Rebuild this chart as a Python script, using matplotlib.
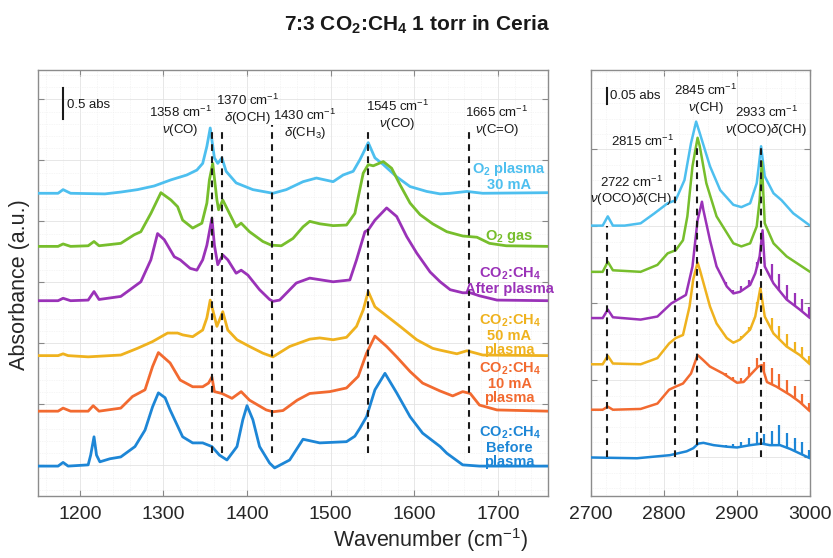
import numpy as np
import matplotlib
matplotlib.use("Agg")
import matplotlib.pyplot as plt
from matplotlib.ticker import FixedLocator

plt.rcParams['font.family'] = ['Liberation Sans', 'DejaVu Sans']
plt.rcParams['mathtext.fontset'] = 'custom'
plt.rcParams['mathtext.rm'] = 'Liberation Sans'
plt.rcParams['mathtext.it'] = 'Liberation Sans:italic'
plt.rcParams['mathtext.bf'] = 'Liberation Sans:bold'

# ---------------- data: left panel (1150-1760 cm-1), offset absorbance ----------------
before_wn = [1150,1174,1180,1186,1210,1213,1217,1220,1224,1236,1249,1266,1278,1287,1294,1302,1308,1323,1335,1347,
             1358,1367,1376,1388,1395,1400,1407,1415,1427,1433,1451,1467,1487,1519,1529,1535,1543,1553,1565,1579,
             1595,1610,1631,1639,1658,1678,1760]
before_y = [0.49,0.49,0.55,0.49,0.51,0.67,0.97,0.67,0.56,0.61,0.64,0.81,1.08,1.46,1.69,1.61,1.41,0.97,0.87,0.87,
            0.81,0.67,0.59,0.81,1.25,1.48,1.25,0.81,0.54,0.46,0.59,0.93,0.87,0.89,0.98,1.11,1.30,1.74,2.01,1.69,
            1.30,1.03,0.81,0.70,0.51,0.49,0.49]

p10_wn = [1150,1174,1180,1189,1210,1216,1223,1249,1263,1278,1287,1294,1308,1320,1335,1347,1354,1358,1361,1370,
          1382,1393,1403,1423,1431,1443,1460,1475,1499,1519,1533,1543,1553,1567,1579,1595,1610,1631,1646,1658,
          1667,1678,1699,1760]
p10_y = [1.39,1.39,1.44,1.39,1.39,1.48,1.39,1.44,1.63,1.74,2.12,2.35,2.18,1.90,1.79,1.79,1.85,1.95,1.71,1.68,
         1.60,1.71,1.57,1.41,1.38,1.40,1.57,1.68,1.71,1.77,1.96,2.34,2.62,2.45,2.28,2.04,1.85,1.72,1.64,1.71,
         1.68,1.49,1.41,1.39]

p50_wn = [1150,1174,1180,1186,1210,1249,1269,1287,1305,1317,1323,1335,1347,1352,1356,1359,1364,1371,1377,1388,
          1403,1419,1431,1451,1475,1487,1503,1519,1531,1539,1545,1553,1568,1583,1603,1622,1631,1651,1663,1682,1760]
p50_y = [2.30,2.30,2.33,2.30,2.28,2.31,2.42,2.53,2.67,2.67,2.64,2.61,2.72,2.92,3.21,3.05,2.78,3.02,2.72,2.56,
         2.45,2.34,2.28,2.45,2.57,2.59,2.56,2.60,2.78,3.05,3.35,3.10,2.94,2.78,2.56,2.42,2.39,2.33,2.38,2.31,2.30]

after_wn = [1150,1174,1180,1189,1210,1217,1223,1249,1265,1273,1285,1293,1301,1313,1320,1332,1340,1347,1352,1358,
            1361,1365,1371,1377,1387,1393,1401,1415,1427,1431,1439,1459,1475,1503,1523,1531,1541,1545,1553,1567,
            1579,1591,1603,1619,1631,1643,1658,1667,1678,1699,1760]
after_y = [3.20,3.20,3.24,3.20,3.21,3.35,3.22,3.27,3.43,3.51,3.87,4.30,4.20,3.92,3.87,3.73,3.70,3.87,4.11,4.55,
           4.11,3.79,3.95,3.87,3.65,3.70,3.62,3.38,3.22,3.19,3.21,3.49,3.57,3.51,3.54,3.87,4.33,4.36,4.52,4.72,
           4.58,4.25,3.98,3.67,3.51,3.38,3.33,3.33,3.28,3.21,3.20]

o2gas_wn = [1150,1174,1180,1189,1210,1217,1223,1249,1265,1273,1285,1297,1309,1317,1323,1335,1346,1352,1355,1359,
            1364,1366,1371,1379,1387,1393,1403,1419,1429,1441,1455,1467,1475,1487,1503,1519,1529,1539,1545,1551,
            1563,1573,1583,1595,1607,1622,1639,1658,1675,1690,1710,1760]
o2gas_y = [4.09,4.09,4.13,4.09,4.10,4.17,4.10,4.14,4.28,4.33,4.63,4.97,4.85,4.74,4.52,4.39,4.47,4.80,5.18,5.45,
           4.85,4.69,4.85,4.63,4.41,4.47,4.33,4.17,4.11,4.10,4.22,4.41,4.50,4.46,4.43,4.44,4.63,5.29,5.43,5.41,
           5.48,5.37,5.10,4.80,4.61,4.46,4.33,4.26,4.24,4.14,4.10,4.09]

o2pl_wn = [1150,1174,1180,1189,1230,1249,1269,1289,1309,1328,1340,1347,1352,1356,1361,1365,1370,1375,1387,1407,
           1431,1447,1467,1483,1503,1515,1527,1535,1539,1545,1553,1563,1579,1595,1615,1631,1643,1663,1682,1760]
o2pl_y = [4.96,4.96,5.02,4.96,4.95,4.98,5.02,5.08,5.18,5.26,5.34,5.45,5.73,6.03,5.54,5.45,5.54,5.32,5.13,5.02,
          4.96,5.02,5.15,5.21,5.15,5.26,5.32,5.51,5.62,5.79,5.54,5.43,5.23,5.07,4.99,4.95,4.96,4.99,4.96,4.97]

# ---------------- data: right panel (2700-3000 cm-1) ----------------
r_o2pl_wn = [2700,2716,2723,2730,2746,2768,2787,2805,2816,2828,2837,2844,2849,2863,2877,2895,2906,2918,2927,2933,
             2938,2950,2961,2977,3000]
r_o2pl_y = [3.51,3.51,3.63,3.51,3.51,3.54,3.67,3.80,3.84,4.10,4.58,4.86,4.71,4.28,3.97,3.78,3.75,3.80,4.06,4.54,
            4.15,3.93,3.84,3.67,3.51]
r_o2gas_wn = [2700,2716,2723,2730,2768,2791,2805,2816,2826,2832,2839,2846,2849,2858,2872,2895,2906,2918,2927,2931,
              2934,2938,2950,2968,3000]
r_o2gas_y = [2.91,2.91,3.04,2.93,2.91,3.00,3.15,3.19,3.32,3.63,4.28,4.65,4.54,4.06,3.63,3.28,3.24,3.28,3.50,3.84,
             4.34,3.54,3.28,3.11,2.91]
r_after_wn = [2700,2716,2723,2730,2768,2791,2810,2819,2830,2839,2846,2852,2854,2863,2872,2886,2895,2904,2918,2925,
              2931,2935,2938,2950,2968,2986,3000]
r_after_y = [2.31,2.31,2.42,2.32,2.29,2.33,2.50,2.55,2.61,2.98,3.58,3.82,3.71,3.32,2.98,2.72,2.63,2.65,2.74,2.89,
             3.11,3.45,2.98,2.76,2.55,2.42,2.31]
r_p50_wn = [2700,2716,2723,2730,2768,2791,2807,2816,2826,2835,2840,2846,2849,2863,2872,2886,2895,2904,2918,2925,
            2932,2938,2950,2968,2986,3000]
r_p50_y = [1.71,1.71,1.82,1.72,1.71,1.79,1.98,2.05,2.09,2.46,2.81,3.03,2.94,2.46,2.24,2.05,1.99,2.03,2.16,2.33,
           2.70,2.33,2.11,1.94,1.83,1.71]
r_p10_wn = [2700,2716,2723,2730,2768,2791,2807,2816,2826,2837,2846,2853,2863,2881,2900,2909,2920,2929,2934,2941,
            2954,2973,2986,3000]
r_p10_y = [1.12,1.12,1.16,1.12,1.13,1.20,1.38,1.42,1.46,1.59,1.83,1.77,1.68,1.59,1.47,1.48,1.59,1.68,1.70,1.48,
           1.42,1.31,1.22,1.10]
r_before_wn = [2700,2763,2808,2831,2840,2847,2854,2868,2886,2900,2918,2934,2945,2959,2973,2991,3000]
r_before_y = [0.50,0.49,0.53,0.58,0.62,0.68,0.69,0.66,0.64,0.63,0.66,0.68,0.66,0.66,0.61,0.53,0.49]

# gas-phase CH4 rotational lines and their heights on each trace
ch4_lines = [2885, 2895, 2906, 2916, 2927, 2937, 2948, 2958, 2968, 2979, 2989, 2999]
spk_before = [0.02, 0.04, 0.06, 0.10, 0.16, 0.13, 0.19, 0.26, 0.19, 0.17, 0.16, 0.10]
spk_p10 = [0.03, 0.04, 0.06, 0.12, 0.13, 0.13, 0.22, 0.19, 0.17, 0.16, 0.13, 0.10]
spk_p50 = [0.00, 0.02, 0.03, 0.05, 0.08, 0.00, 0.17, 0.17, 0.16, 0.13, 0.13, 0.10]
spk_after = [0.04, 0.05, 0.06, 0.08, 0.08, 0.00, 0.22, 0.22, 0.19, 0.17, 0.16, 0.13]

# band markers
left_marks = [1358, 1370, 1430, 1545, 1665]
left_mark_top = [6.05, 6.00, 6.08, 5.97, 6.05]
right_marks = [2722, 2815, 2845, 2933]
right_mark_top = [3.50, 4.53, 4.53, 4.58]

labels = ["O$_\\mathbf{2}$ plasma\n30 mA", "O$_\\mathbf{2}$ gas", "CO$_\\mathbf{2}$:CH$_\\mathbf{4}$\nAfter plasma",
          "CO$_\\mathbf{2}$:CH$_\\mathbf{4}$\n50 mA\nplasma", "CO$_\\mathbf{2}$:CH$_\\mathbf{4}$\n10 mA\nplasma",
          "CO$_\\mathbf{2}$:CH$_\\mathbf{4}$\nBefore\nplasma"]
label_y = [5.24, 4.26, 3.52, 2.64, 1.85, 0.81]

colors = ['#4DBFEF', '#77BE2C', '#9A32B8', '#EFB21E', '#F26A30', '#1D86D6']

# ---------------- figure ----------------
fig = plt.figure(figsize=(8.33, 5.58), dpi=100)
axL = fig.add_axes([38/833, 62/558, 510/833, 426/558])
axR = fig.add_axes([591/833, 62/558, 219/833, 426/558])

left_series = [(o2pl_wn, o2pl_y), (o2gas_wn, o2gas_y), (after_wn, after_y),
               (p50_wn, p50_y), (p10_wn, p10_y), (before_wn, before_y)]
right_series = [(r_o2pl_wn, r_o2pl_y), (r_o2gas_wn, r_o2gas_y), (r_after_wn, r_after_y),
                (r_p50_wn, r_p50_y), (r_p10_wn, r_p10_y), (r_before_wn, r_before_y)]
spikes = [None, None, spk_after, spk_p50, spk_p10, spk_before]

for (x, y), c in zip(left_series, colors):
    axL.plot(x, y, color=c, lw=2.0, solid_joinstyle='round', solid_capstyle='round', zorder=3)

for (x, y), c, s in zip(right_series, colors, spikes):
    axR.plot(x, y, color=c, lw=1.8, solid_joinstyle='round', solid_capstyle='round', zorder=3)
    if s is not None:
        base = np.interp(ch4_lines, x, y)
        axR.vlines(ch4_lines, base, base + np.array(s), color=c, lw=1.6, zorder=3)

dash = (0, (3.2, 2.6))
for m, t in zip(left_marks, left_mark_top):
    axL.plot([m, m], [0.70, t], color='#1a1a1a', lw=1.5, ls=dash, zorder=4)
for m, t in zip(right_marks, right_mark_top):
    axR.plot([m, m], [0.51, t], color='#1a1a1a', lw=1.5, ls=dash, zorder=4)

# axes styling
for ax in (axL, axR):
    ax.tick_params(direction='in', length=4, width=0.8, top=True, right=True, labelleft=False,
                   colors='#888888', labelcolor='#262626', labelsize=14, pad=7)
    ax.tick_params(which='minor', length=0)
    for sp in ax.spines.values():
        sp.set_color('#8c8c8c')
        sp.set_linewidth(1.0)
    ax.grid(True, which='major', color='#e3e3e3', lw=0.6)
    ax.grid(True, which='minor', color='#ededed', lw=0.5, ls=(0, (1, 1.5)))
    ax.set_axisbelow(True)

axL.set_xlim(1150, 1760)
axL.set_ylim(0, 6.98)
axL.set_xticks([1200, 1300, 1400, 1500, 1600, 1700])
axL.set_yticks(np.arange(0.5, 6.6, 1.0))
axL.xaxis.set_minor_locator(FixedLocator(np.arange(1160, 1760, 20)))
axL.yaxis.set_minor_locator(FixedLocator(np.arange(0.1, 6.98, 0.2)))

axR.set_xlim(2700, 3000)
axR.set_ylim(0, 5.53)
axR.set_xticks([2700, 2800, 2900, 3000])
axR.set_yticks(np.arange(0.5, 5.0, 1.0))
axR.xaxis.set_minor_locator(FixedLocator(np.arange(2720, 3000, 20)))
axR.yaxis.set_minor_locator(FixedLocator(np.arange(0.1, 5.53, 0.2)))

# annotations left
af = dict(fontsize=9.5, ha='center', va='center', color='#1a1a1a', linespacing=1.15, zorder=5)
axL.text(1320, 6.14, "1358 cm$^{-1}$\n$\\nu$(CO)", **af)
axL.text(1401, 6.33, "1370 cm$^{-1}$\n$\\delta$(OCH)", **af)
axL.text(1469, 6.09, "1430 cm$^{-1}$\n$\\delta$(CH$_3$)", **af)
axL.text(1580, 6.24, "1545 cm$^{-1}$\n$\\nu$(CO)", **af)
axL.text(1699, 6.14, "1665 cm$^{-1}$\n$\\nu$(C=O)", **af)
axL.plot([1180, 1180], [6.18, 6.68], color='#1a1a1a', lw=1.5)
axL.text(1184.5, 6.41, "0.5 abs", fontsize=9.5, ha='left', va='center', color='#1a1a1a')

for lab, ly, c in zip(labels, label_y, colors):
    axL.text(1714, ly, lab, color=c, fontsize=10.5, fontweight='bold', ha='center', va='center',
             linespacing=1.0, zorder=5)

# annotations right
axR.plot([2721.5, 2721.5], [5.09, 5.29], color='#1a1a1a', lw=1.5)
axR.text(2726.5, 5.19, "0.05 abs", fontsize=9.5, ha='left', va='center', color='#1a1a1a')
axR.text(2857, 5.15, "2845 cm$^{-1}$\n$\\nu$(CH)", **af)
axR.text(2940, 4.86, "2933 cm$^{-1}$\n$\\nu$(OCO)$\\delta$(CH)", **af)
axR.text(2771, 4.60, "2815 cm$^{-1}$", **af)
axR.text(2755, 3.96, "2722 cm$^{-1}$\n$\\nu$(OCO)$\\delta$(CH)", **af)

# titles / labels
fig.text(0.5, 1 - 25/558, "7:3 CO$_\\mathbf{2}$:CH$_\\mathbf{4}$ 1 torr in Ceria", fontsize=15,
         fontweight='bold', ha='center', va='center', color='#1a1a1a')
fig.text(20/833, 1 - 285/558, "Absorbance (a.u.)", fontsize=15.5, rotation=90, ha='center', va='center',
         color='#262626')
fig.text(431/833, 4/558, "Wavenumber (cm$^{-1}$)", fontsize=15.5, ha='center', va='bottom',
         color='#262626')

fig.savefig("out.png", dpi=100)
